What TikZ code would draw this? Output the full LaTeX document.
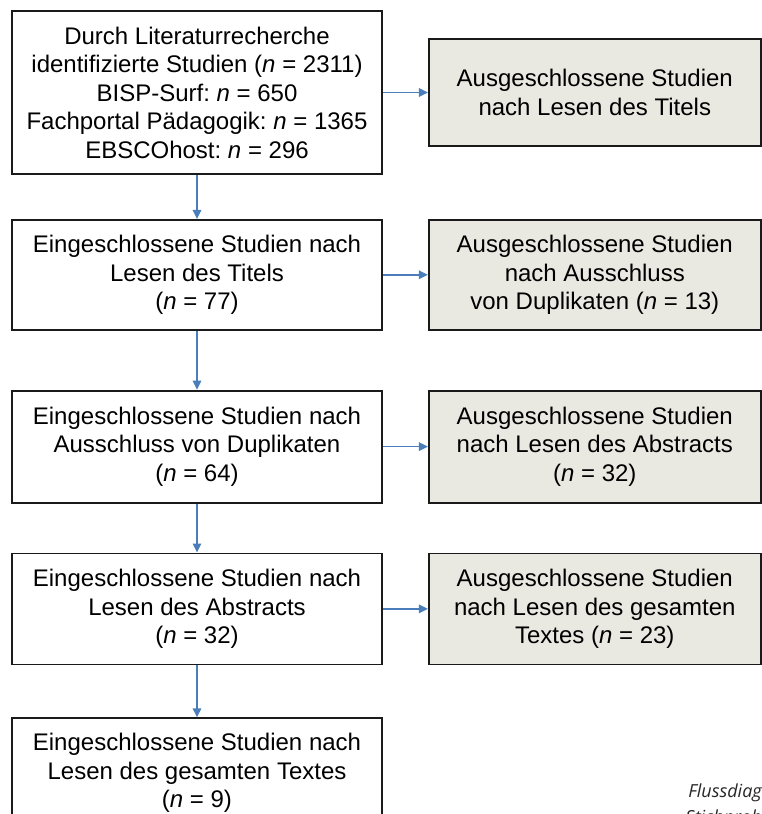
\documentclass[tikz,border=0pt]{standalone}
\usepackage{fontspec}
\setmainfont{Liberation Sans}
\newfontfamily\captfont{Open Sans}
\usepackage{tikz}
\usetikzlibrary{arrows.meta,positioning}
\usepackage{xcolor}
\definecolor{flowblue}{HTML}{4A7EBB}
\definecolor{exclgray}{HTML}{EAE9E1}
\definecolor{boxline}{HTML}{1A1A1A}
\frenchspacing

\begin{document}
\begin{tikzpicture}[
  x=1pt, y=1pt,
  font=\fontsize{24}{28.5}\selectfont,
  >={Triangle[length=9pt, width=8.5pt]},
  incl/.style={rectangle, draw=boxline, fill=white, line width=1.8pt,
               minimum width=370pt, minimum height=110pt, align=center,
               inner sep=0pt},
  excl/.style={rectangle, draw=boxline, fill=exclgray, line width=1.8pt,
               minimum width=332pt, minimum height=110pt, align=center,
               inner sep=0pt},
  flow/.style={->, draw=flowblue, line width=1.6pt},
  capt/.style={font=\captfont\itshape\fontsize{18}{26}\selectfont,
               text=black!85, inner sep=0pt}
]
\useasboundingbox (0,0) rectangle (762,-814);

% ---------- Included (left column) ----------
\node[incl, minimum height=163pt] (lit) at (197,-92.5)
  {Durch Literaturrecherche\\
   identifizierte Studien (\textit{n} = 2311)\\
   BISP-Surf: \textit{n} = 650\\
   Fachportal Pädagogik: \textit{n} = 1365\\
   EBSCOhost: \textit{n} = 296};
\node[incl, below=44pt of lit] (titel)
  {Eingeschlossene Studien nach\\Lesen des Titels\\(\textit{n} = 77)};
\node[incl, below=59pt of titel, minimum height=112pt] (dup)
  {Eingeschlossene Studien nach\\Ausschluss von Duplikaten\\(\textit{n} = 64)};
\node[incl, below=49pt of dup, minimum height=111pt] (abstr)
  {Eingeschlossene Studien nach\\Lesen des Abstracts\\(\textit{n} = 32)};
\node[incl, below=52pt of abstr] (volltext)
  {Eingeschlossene Studien nach\\Lesen des gesamten Textes\\(\textit{n} = 9)};

% ---------- Excluded (right column) ----------
\node[excl, right=45pt of lit, minimum height=107pt] (exTitel)
  {Ausgeschlossene Studien\\nach Lesen des Titels};
\node[excl, right=45pt of titel] (exDup)
  {Ausgeschlossene Studien\\nach Ausschluss\\von Duplikaten (\textit{n} = 13)};
\node[excl, right=45pt of dup, minimum height=112pt] (exAbstr)
  {Ausgeschlossene Studien\\nach Lesen des Abstracts\\(\textit{n} = 32)};
\node[excl, right=45pt of abstr, minimum height=111pt] (exText)
  {Ausgeschlossene Studien\\nach Lesen des gesamten\\Textes (\textit{n} = 23)};

% ---------- Arrows ----------
\draw[flow] (lit) -- (titel);
\draw[flow] (titel) -- (dup);
\draw[flow] (dup) -- (abstr);
\draw[flow] (abstr) -- (volltext);
\draw[flow] (lit) -- (exTitel);
\draw[flow] (titel) -- (exDup);
\draw[flow] (dup) -- (exAbstr);
\draw[flow] (abstr) -- (exText);

% ---------- Caption (cut off) ----------
\node[capt, anchor=base east] (capt1) at (762,-797) {Flussdiag};
\node[capt, anchor=base east] (capt2) at (762,-823) {Stichprob};

\end{tikzpicture}
\end{document}
